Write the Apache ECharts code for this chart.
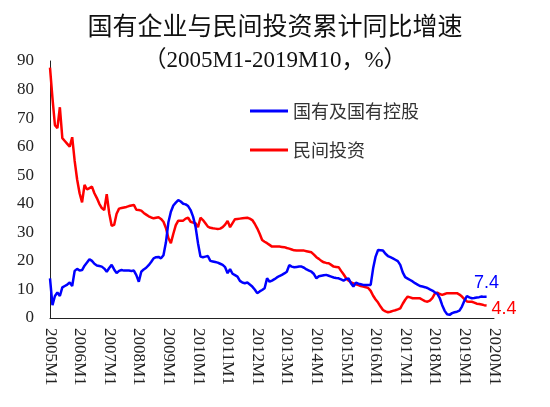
<!DOCTYPE html>
<html>
<head>
<meta charset="utf-8">
<script src="https://cdn.jsdelivr.net/npm/echarts@6/dist/echarts.min.js"></script>
<style>html,body{margin:0;padding:0;background:#fff;}#c{width:550px;height:407px;}</style>
</head>
<body>
<div id="c"></div>
<script>
// Tick labels shown on the x axis (one per January)
const yearLabels = ['2005M1','2006M1','2007M1','2008M1','2009M1','2010M1','2011M1','2012M1','2013M1','2014M1','2015M1','2016M1','2017M1','2018M1','2019M1','2020M1'];

// Monthly categories 2005M1 .. 2020M1
const categories = [];
for (let y = 2005; y <= 2020; y++) {
  for (let m = 1; m <= 12; m++) {
    if (y === 2020 && m > 1) break;
    categories.push(y + 'M' + m);
  }
}

// 国有及国有控股 (2005M1 .. 2019M10)
const stateOwned = [
13.9,4.5,7.7,8.9,7.7,10.7,11.2,11.7,12.4,11.2,16.5,17.2,
16.6,16.8,18.3,19.4,20.6,20.0,19.0,18.4,18.2,18.0,17.3,16.2,
17.5,18.6,17.0,15.7,16.5,16.8,16.6,16.6,16.6,16.5,16.6,15.0,
12.7,16.2,17.0,17.6,18.5,19.6,20.9,21.3,21.4,20.9,22.0,26.5,
33.5,37.2,39.4,40.4,41.3,40.8,40.0,39.8,39.2,37.8,35.5,32.0,
26.2,21.5,21.3,21.5,21.7,20.0,19.8,19.6,19.4,19.0,18.6,17.8,
15.7,17.1,15.5,15.0,14.5,13.0,12.4,12.2,12.4,11.7,11.0,10.0,
8.7,9.3,9.8,10.4,13.9,12.7,13.1,13.6,14.2,14.7,15.1,15.6,
16.2,18.5,18.0,17.8,17.9,18.0,18.0,17.6,17.0,16.6,16.2,15.4,
13.9,14.6,14.8,15.0,15.1,14.8,14.5,14.2,14.0,13.9,13.5,13.1,
13.6,13.9,12.2,11.0,12.4,12.0,11.8,11.6,11.6,11.6,11.6,17.4,
21.5,23.8,23.7,23.6,22.5,21.7,21.3,20.9,20.4,19.9,18.6,16.0,
14.3,13.8,13.3,12.8,12.2,11.7,11.2,11.0,10.8,10.5,10.0,9.6,
9.0,8.5,7.0,4.5,2.5,1.3,1.1,1.7,2.0,2.2,2.6,4.0,
6.0,7.7,7.2,6.9,7.0,7.2,7.3,7.5,7.4,7.4
];

// 民间投资 (2005M1 .. 2019M10)
const privateInv = [
87.7,77.0,67.5,66.5,73.8,63.0,62.0,61.0,60.0,63.3,55.0,48.5,
43.7,40.5,46.6,45.0,45.5,46.0,43.7,42.0,40.0,38.5,37.8,43.4,
36.7,32.3,32.6,36.5,38.3,38.5,38.7,38.9,39.2,39.4,39.6,37.9,
37.8,37.6,36.8,36.2,35.6,35.2,34.9,35.1,35.3,34.7,33.7,31.5,
28.0,26.2,29.5,32.5,34.1,34.1,34.1,34.8,35.1,33.7,33.4,33.2,
31.8,35.1,34.3,33.2,32.0,31.6,31.4,31.3,31.2,31.3,31.8,32.7,
34.0,31.8,33.2,34.6,34.7,34.8,34.9,35.0,35.1,34.8,34.3,33.0,
31.4,29.5,27.3,26.7,26.2,25.6,25.0,25.0,25.0,25.0,24.9,24.8,
24.5,24.3,24.0,23.7,23.6,23.6,23.6,23.6,23.4,23.2,23.0,22.2,
21.3,20.7,20.0,19.5,19.3,19.2,18.6,18.0,17.9,17.8,16.5,15.3,
14.0,13.1,12.5,12.1,11.8,11.5,11.2,11.0,10.8,10.5,9.5,7.8,
6.5,5.4,4.0,2.8,2.3,2.0,2.2,2.5,2.7,3.0,3.4,5.0,
6.4,7.5,7.2,6.9,6.9,6.9,6.9,6.4,5.9,5.7,6.1,7.0,
8.5,8.9,8.4,8.1,8.4,8.7,8.7,8.7,8.7,8.7,8.2,7.5,
6.6,5.8,5.7,5.7,5.4,5.0,4.9,4.7,4.5,4.4
];

const seriesNames = ['国有及国有控股', '民间投资'];

const chart = echarts.init(document.getElementById('c'), null, { renderer: 'canvas' });
chart.setOption({
  animation: false,
  backgroundColor: '#fff',
  title: [
    {
      text: '国有企业与民间投资累计同比增速',
      left: 'center', top: 8,
      textStyle: { fontFamily: 'Noto Sans CJK SC', fontSize: 25, fontWeight: 'normal', color: '#111' }
    },
    {
      text: '（2005M1-2019M10，%）',
      left: 'center', top: 44,
      textStyle: { fontFamily: 'Liberation Serif, Noto Sans CJK SC', fontSize: 23, fontWeight: 'normal', color: '#111' }
    }
  ],
  legend: {
    orient: 'vertical',
    left: 245, top: 97,
    icon: 'rect',
    itemWidth: 38, itemHeight: 3,
    itemGap: 21,
    textStyle: { fontFamily: 'Noto Sans CJK SC', fontSize: 18, color: '#333' },
    data: seriesNames
  },
  grid: { left: 50, right: 56, top: 61, bottom: 89, containLabel: false },
  xAxis: {
    type: 'category',
    data: categories,
    boundaryGap: false,
    axisLine: { show: true, lineStyle: { color: '#222', width: 1 } },
    axisTick: { show: false },
    splitLine: { show: false },
    axisLabel: {
      interval: 0,
      rotate: -90,
      margin: 10,
      fontFamily: 'Liberation Serif',
      fontSize: 17,
      color: '#222',
      formatter: function (val, idx) { return idx % 12 === 0 ? yearLabels[idx / 12] : ''; }
    }
  },
  yAxis: {
    type: 'value',
    min: 0, max: 90, interval: 10,
    axisLine: { show: true, lineStyle: { color: '#222', width: 1 } },
    axisTick: { show: false },
    splitLine: { show: false },
    axisLabel: { fontFamily: 'Liberation Serif', fontSize: 17, color: '#222', margin: 16 }
  },
  series: [
    {
      name: seriesNames[0],
      type: 'line',
      data: stateOwned,
      showSymbol: false, symbol: 'none',
      lineStyle: { color: '#0000FF', width: 2.5 },
      itemStyle: { color: '#0000FF' },
      endLabel: {
        show: true, align: 'center', verticalAlign: 'middle', distance: 0, offset: [0, -14],
        fontFamily: 'Liberation Sans', fontSize: 18, color: '#0000FF',
        formatter: function (p) { return p.value; }
      },
      z: 3
    },
    {
      name: seriesNames[1],
      type: 'line',
      data: privateInv,
      showSymbol: false, symbol: 'none',
      lineStyle: { color: '#FF0000', width: 2.5 },
      itemStyle: { color: '#FF0000' },
      endLabel: {
        show: true, align: 'left', verticalAlign: 'middle', distance: 5, offset: [0, 4],
        fontFamily: 'Liberation Sans', fontSize: 18, color: '#FF0000',
        formatter: function (p) { return p.value; }
      },
      z: 2
    }
  ]
});
</script>
</body>
</html>
